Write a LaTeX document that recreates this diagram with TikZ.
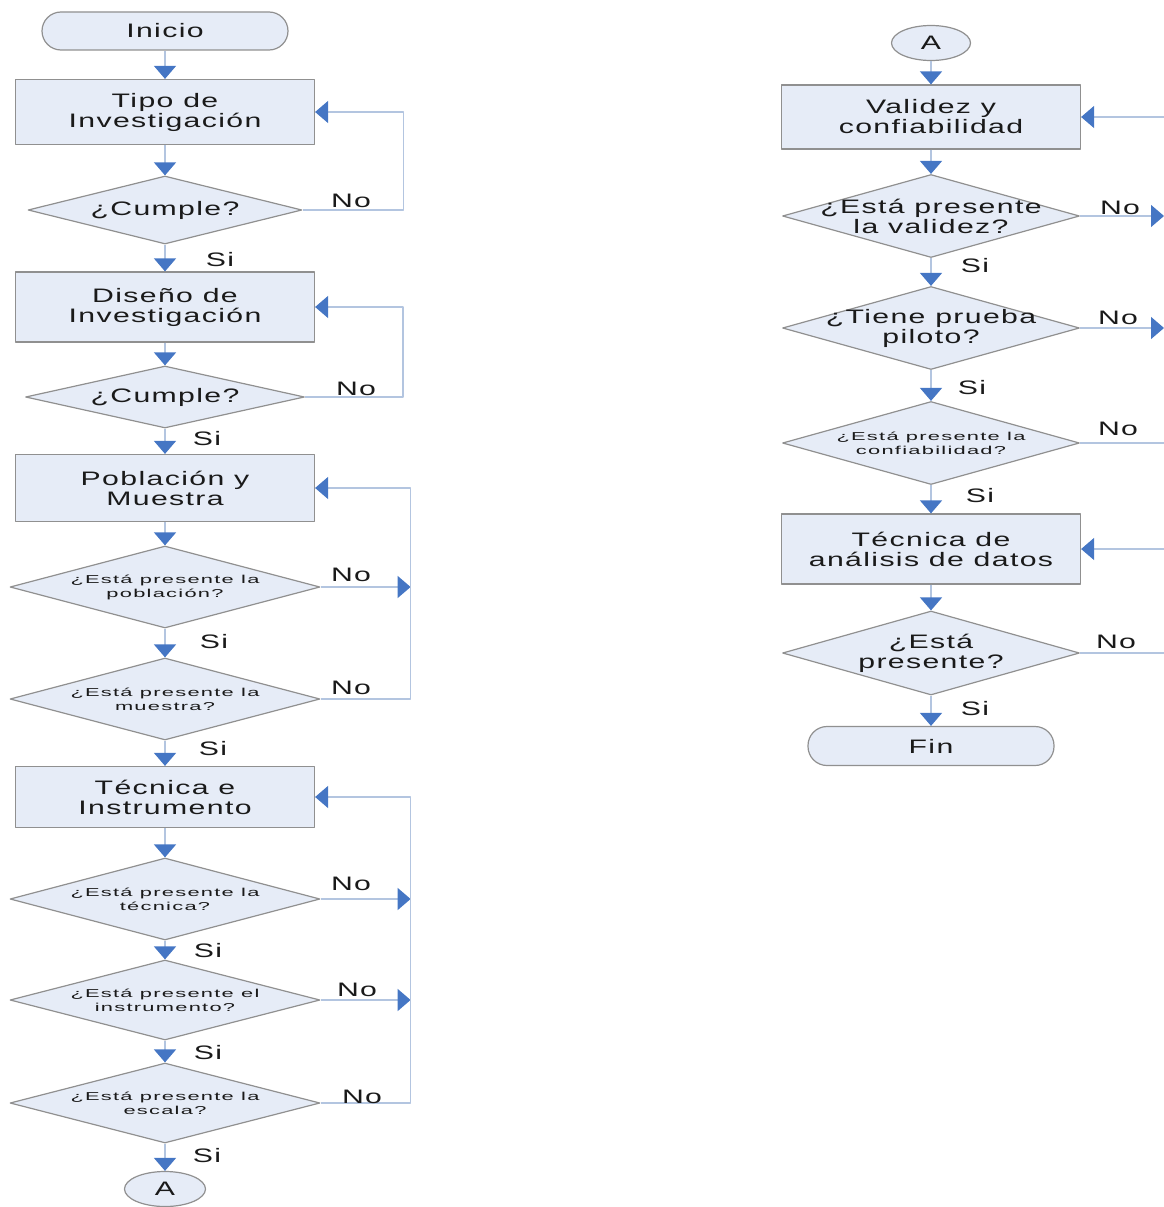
\documentclass[tikz,border=0pt]{standalone}
\usepackage{fontspec}
\setmainfont{Liberation Sans}
\newfontfamily\bigf[FakeStretch=1.55,LetterSpace=7]{Liberation Sans}
\newfontfamily\smallf[FakeStretch=1.9,LetterSpace=11]{Liberation Sans}
\newcommand\bigtxt{\bigf\fontsize{19.5}{20}\selectfont}
\newcommand\smalltxt{\smallf\fontsize{11.5}{14}\selectfont}
\usetikzlibrary{shapes.geometric,arrows.meta}
\definecolor{fillc}{HTML}{E6ECF7}
\definecolor{edgec}{HTML}{909090}
\definecolor{linec}{HTML}{B3C5E0}
\definecolor{tipc}{HTML}{4576C4}
\definecolor{txtc}{HTML}{1A1A1A}
\begin{document}
\begin{tikzpicture}[x=1pt,y=-1pt,line join=round,text=txtc,
  >={Triangle[width=22pt,length=13pt,color=tipc]},
  box/.style={draw=edgec,fill=fillc,line width=1.2pt,minimum width=299pt,align=center,font=\bigtxt},
  term/.style={draw=edgec,fill=fillc,line width=1.2pt,minimum width=246pt,minimum height=38pt,rounded corners=19pt,font=\bigtxt},
  conn/.style={ellipse,draw=edgec,fill=fillc,line width=1.2pt,minimum width=79pt,minimum height=35pt,inner sep=0pt,font=\bigtxt},
  decision/.style={diamond,draw=edgec,fill=fillc,line width=1.2pt,minimum width=310pt,minimum height=82pt,inner sep=0pt},
  decs/.style={decision,label={[align=center,font=\smalltxt]center:#1}},
  decb/.style={decision,label={[align=center,font=\bigtxt]center:#1}},
  con/.style={draw=linec,line width=1.4pt},
  lbl/.style={font=\bigtxt}]
\useasboundingbox (0,0) rectangle (1164,1207);
% columna izquierda
\node[term] (ini) at (165,31) {Inicio};
\node[box,minimum height=65pt] (tipo) at (165,112) {Tipo de\\Investigación};
\node[decb={¿Cumple?},minimum width=274pt,minimum height=68pt] (c1) at (165,210) {};
\node[box,minimum height=70pt] (dis) at (165,307) {Diseño de\\Investigación};
\node[decb={¿Cumple?},minimum width=279pt,minimum height=62pt] (c2) at (165,397) {};
\node[box,minimum height=67pt] (pob) at (165,488) {Población y\\Muestra};
\node[decs={¿Está presente la\\población?}] (d1) at (165,587) {};
\node[decs={¿Está presente la\\muestra?}] (d2) at (165,699) {};
\node[box,minimum height=61pt] (tec) at (165,797) {Técnica e\\Instrumento};
\node[decs={¿Está presente la\\técnica?}] (d3) at (165,899) {};
\node[decs={¿Está presente el\\instrumento?},minimum height=80pt] (d4) at (165,1000) {};
\node[decs={¿Está presente la\\escala?},minimum height=80pt] (d5) at (165,1103) {};
\node[conn,minimum width=81pt] (a1) at (165,1189) {A};
% columna derecha
\node[conn] (a2) at (931,43) {A};
\node[box,minimum height=64pt] (val) at (931,117) {Validez y\\confiabilidad};
\node[decb={¿Está presente\\la validez?},minimum width=297pt,minimum height=83pt] (r1) at (931,216) {};
\node[decb={¿Tiene prueba\\piloto?},minimum width=297pt,minimum height=83pt] (r2) at (931,328) {};
\node[decs={¿Está presente la\\confiabilidad?},minimum width=297pt,minimum height=83pt] (r3) at (931,443) {};
\node[box,minimum height=70pt] (ana) at (931,549) {Técnica de\\análisis de datos};
\node[decb={¿Está\\presente?},minimum width=297pt,minimum height=84pt] (r4) at (931,653) {};
\node[term,minimum height=39pt] (fin) at (931,746) {Fin};
\coordinate (inV) at (1164,117);
\coordinate (e1) at (1164,216);
\coordinate (e2) at (1164,328);
\coordinate (e3) at (1164,443);
\coordinate (inA) at (1164,549);
\coordinate (e5) at (1164,653);
% conectores
\draw[con,->] (ini) -- (tipo);
\draw[con,->] (tipo) -- (c1);
\draw[con,->] (c1) -- (dis);
\draw[con,->] (c1.east) -- ++(101,0) |- (tipo.east);
\draw[con,->] (dis) -- (c2);
\draw[con,->] (c2) -- (pob);
\draw[con,->] (c2.east) -- ++(98,0) |- (dis.east);
\draw[con,->] (pob) -- (d1);
\draw[con,->] (d1) -- (d2);
\draw[con,->] (d2) -- (tec);
\draw[con,->] (d1.east) -- ++(90,0);
\draw[con,->] (d2.east) -- ++(90,0) |- (pob.east);
\draw[con,->] (tec) -- (d3);
\draw[con,->] (d3) -- (d4);
\draw[con,->] (d4) -- (d5);
\draw[con,->] (d5) -- (a1);
\draw[con,->] (d3.east) -- ++(90,0);
\draw[con,->] (d4.east) -- ++(90,0);
\draw[con,->] (d5.east) -- ++(90,0) |- (tec.east);
\draw[con,->] (a2) -- (val);
\draw[con,->] (inV) -- (val.east);
\draw[con,->] (val) -- (r1);
\draw[con,->] (r1.east) -- (e1);
\draw[con,->] (r1) -- (r2);
\draw[con,->] (r2.east) -- (e2);
\draw[con,->] (r2) -- (r3);
\draw[con] (r3.east) -- (e3);
\draw[con,->] (r3) -- (ana);
\draw[con,->] (inA) -- (ana.east);
\draw[con,->] (ana) -- (r4);
\draw[con] (r4.east) -- (e5);
\draw[con,->] (r4) -- (fin);
% etiquetas Si / No
\node[lbl] (n1) at (351,201) {No};
\node[lbl] (s1) at (220,260) {Si};
\node[lbl] (n2) at (356,389) {No};
\node[lbl] (s2) at (207,439) {Si};
\node[lbl] (n3) at (351,575) {No};
\node[lbl] (s3) at (214,642) {Si};
\node[lbl] (n4) at (351,688) {No};
\node[lbl] (s4) at (213,749) {Si};
\node[lbl] (n5) at (351,884) {No};
\node[lbl] (s5) at (208,951) {Si};
\node[lbl] (n6) at (357,990) {No};
\node[lbl] (s6) at (208,1053) {Si};
\node[lbl] (n7) at (362,1097) {No};
\node[lbl] (s7) at (207,1156) {Si};
\node[lbl] (n8) at (1120,208) {No};
\node[lbl] (s8) at (975,266) {Si};
\node[lbl] (n9) at (1118,318) {No};
\node[lbl] (s9) at (972,388) {Si};
\node[lbl] (n10) at (1118,429) {No};
\node[lbl] (s10) at (980,496) {Si};
\node[lbl] (n11) at (1116,642) {No};
\node[lbl] (s11) at (975,709) {Si};
\end{tikzpicture}
\end{document}
